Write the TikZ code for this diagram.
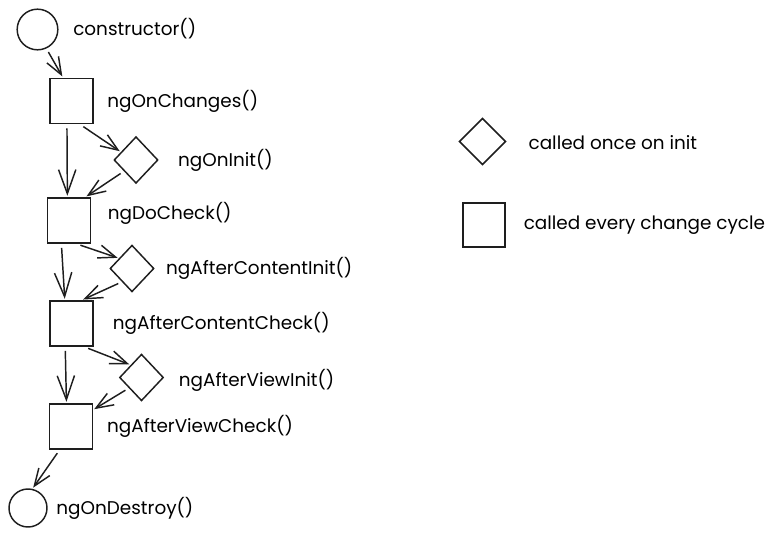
\documentclass[tikz,border=0pt]{standalone}
\usepackage{fontspec}
\setmainfont{Poppins}
\usetikzlibrary{arrows.meta, positioning, shapes.geometric}

\definecolor{ink}{HTML}{1E1E1E}

\begin{document}
\begin{tikzpicture}[
    x=0.75pt, y=-0.75pt,
    every node/.style={
            draw=ink,
            line width=1.1pt,
            inner sep=0pt
        },
    hook_box/.style={rectangle, minimum width=32pt, minimum height=34pt},
    hook_once/.style={diamond, minimum width=33pt, minimum height=35pt},
    hook_end/.style={circle, minimum size=30.5pt},
    hook_text/.style={draw=none, text=black, font=\fontsize{13.8}{16}\selectfont},
    arrow/.style={
            draw=ink,
            line width=1.1pt,
            -{Straight Barb[length=13pt, width=10pt]},
            shorten <=3pt,
            shorten >=1pt
        },
    long_arrow/.style={arrow, -{Straight Barb[length=18pt, width=13pt]}}
    ]

    \useasboundingbox (0,0) rectangle (779,538);

    % --- Lifecycle hooks ---
    \node (ctor) [hook_end] at (37.5,29.5) {};
    \node (changes) [hook_box] at (71.5,101) {};
    \node (oninit) [hook_once] at (136,160) {};
    \node (docheck) [hook_box] at (69,220.5) {};
    \node (contentinit) [hook_once] at (132,268.5) {};
    \node (contentcheck) [hook_box] at (71.5,323.5) {};
    \node (viewinit) [hook_once] at (141.5,377.5) {};
    \node (viewcheck) [hook_box] at (71,426.5) {};
    \node (destroy) [hook_end, minimum size=28.5pt] at (28,508) {};

    % --- Hook names ---
    \node [hook_text, right=10.5pt of ctor, yshift=1pt] {constructor()};
    \node [hook_text, right=9.75pt of changes] {ngOnChanges()};
    \node [hook_text, right=14pt of oninit] {ngOnInit()};
    \node [hook_text, right=12pt of docheck, yshift=5.5pt] {ngDoCheck()};
    \node [hook_text, right=8pt of contentinit] {ngAfterContentInit()};
    \node [hook_text, right=14pt of contentcheck] {ngAfterContentCheck()};
    \node [hook_text, right=10.5pt of viewinit, yshift=-2pt] {ngAfterViewInit()};
    \node [hook_text, right=10pt of viewcheck] {ngAfterViewCheck()};
    \node [hook_text, right=6pt of destroy] {ngOnDestroy()};

    % --- Legend ---
    \node (legend_once) [hook_once, minimum width=35pt, minimum height=35pt] at (482.5,141.5) {};
    \node (legend_box) [hook_box, minimum width=31.5pt, minimum height=33pt] at (484,225) {};
    \node [hook_text, right=16pt of legend_once, yshift=-1pt] {called once on init};
    \node [hook_text, right=13pt of legend_box] {called every change cycle};

    % --- Arrows ---
    \draw[arrow] (ctor.-65) -- (changes.110);
    \draw[long_arrow] (changes.-101) -- (docheck.94);
    \draw[arrow] (changes.-70) -- (oninit.152);
    \draw[arrow] (oninit.223) -- (docheck.55);
    \draw[long_arrow] (docheck.-108) -- (contentcheck.106);
    \draw[arrow] (docheck.-72) -- (contentinit.142);
    \draw[arrow] (contentinit.233) -- (contentcheck.66);
    \draw[long_arrow] (contentcheck.-105) -- (viewcheck.101);
    \draw[arrow] (contentcheck.-61) -- (viewinit.131);
    \draw[arrow] (viewinit.220) -- (viewcheck.37);
    \draw[arrow] (viewcheck.244) -- (destroy.77);

\end{tikzpicture}
\end{document}
